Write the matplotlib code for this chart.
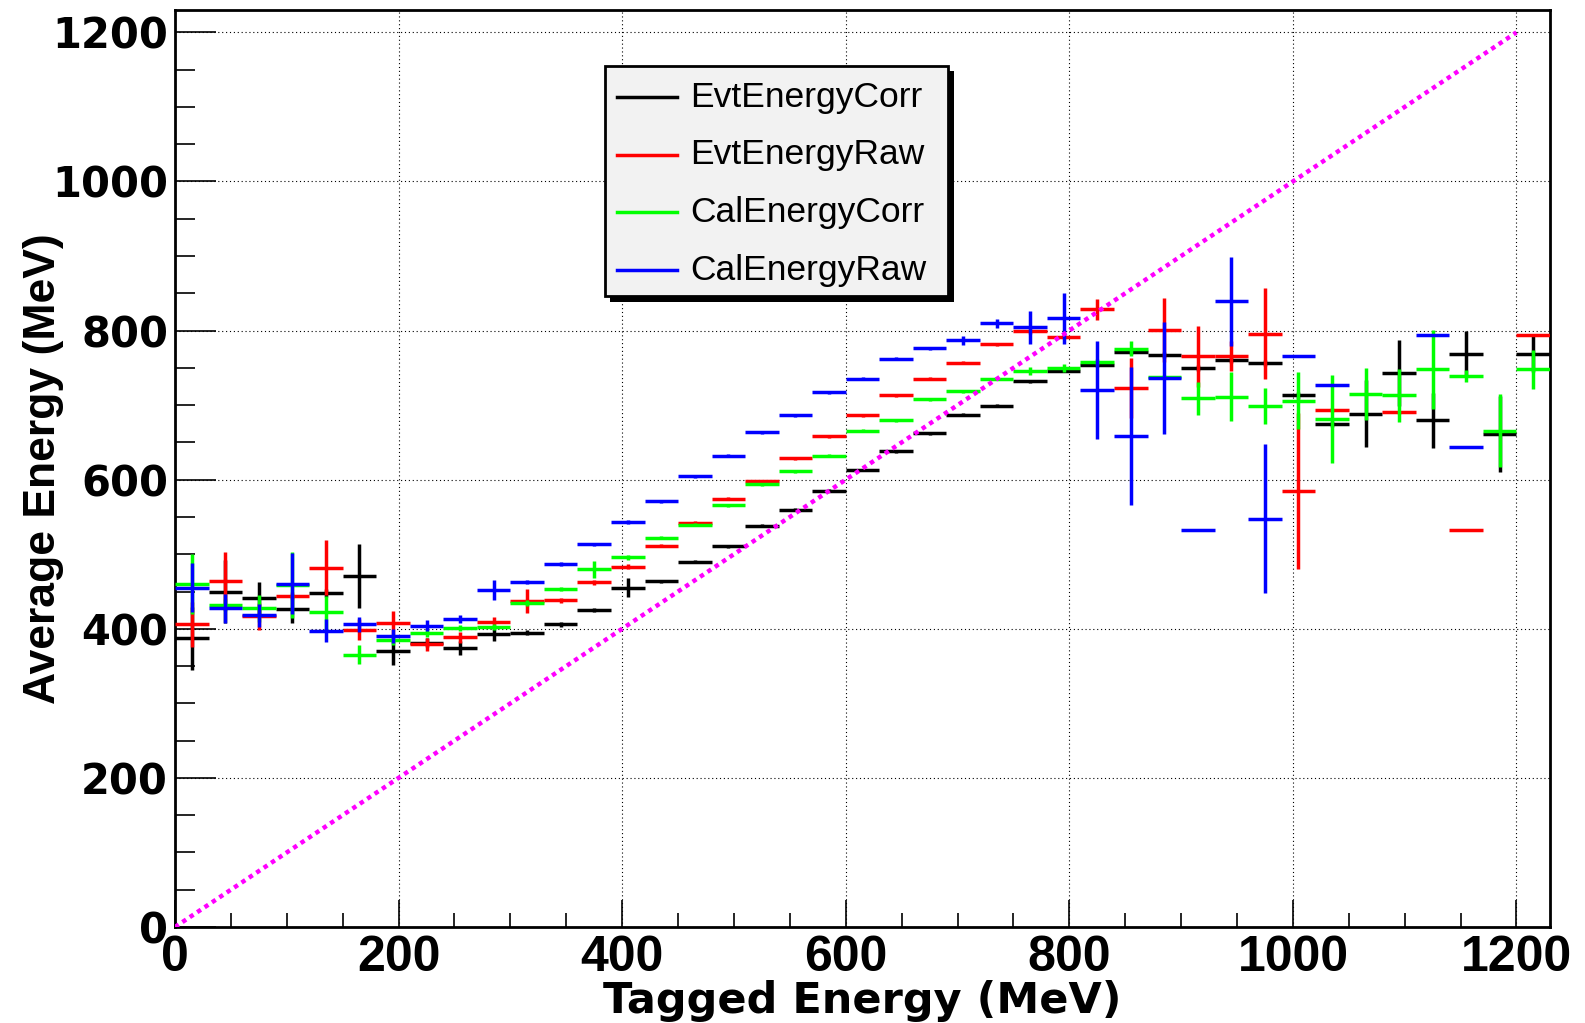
import numpy as np
import matplotlib
matplotlib.use("Agg")
import matplotlib.pyplot as plt
from matplotlib.lines import Line2D
from matplotlib.patches import Rectangle
from matplotlib.ticker import MultipleLocator

nan = np.nan

# 30 MeV tagger bins, 0 - 1230 MeV
bin_width = 30
bin_centers = np.arange(15, 1230, bin_width)

evt_corr = [387, 450, 441, 427, 448, 471, 370, 381, 374, 393,
            395, 406, 425.5, 455, 464, 490, 511, 538, 560, 585,
            613, 638, 662, 687, 699, 732, 746, 754, 771, 767,
            750, 761, 757, 713, 675, 688.5, 743, 679.5, 769, 661, 769]
evt_corr_err = [42, 42, 22, 19, 5, 43, 18, 6, 9, 10,
                4, 3, 3, 12.5, 2, 2, 2, 2, 2, 2,
                2, 2, 2, 2, 2, 2, 2, 3, 3, 4,
                4, 4, 4, 5, 4, 45, 44.5, 37, 30, 51, 25]

evt_raw = [406, 464, 416.5, 444.6, 482, 399, 408, 379, 388.5, 409.7,
           437, 438, 462.4, 483.3, 511.3, 542.5, 574.5, 598, 628.8, 658,
           686.6, 713, 735.6, 757, 781.4, 798.8, 792, 828.5, 723.4, 800.6,
           765.5, 765.5, 795.7, 584.8, 693.8, nan, 690.3, nan, 532.3, nan, 793.5]
evt_raw_err = [30, 39, 18, 5, 37, 14, 16, 9, 7, 6,
               16, 3, 3, 3, 2, 2, 2, 2, 2, 2,
               2, 2, 2, 2, 2, 3, 3, 14.5, 40, 43,
               40.7, 20, 61, 104, 3, 0, 2, 0, 0, 0, 0]

cal_corr = [460, 432, 427.6, 458.5, 422, 365.4, 384.5, 394.3, 401, 402.8,
            434.4, 453.5, 479.7, 495.8, 522, 539.8, 566, 594, 611.5, 632.4,
            665.7, 679.6, 707.6, 718.7, 735.6, 745.9, 749.7, 758.3, 775.5, 738,
            709.4, 711.2, 698.7, 706, 681.3, 714.7, 713, 747.8, 739.2, 665.4, 747.8]
cal_corr_err = [40, 8, 18, 44, 22, 13, 6, 5, 4, 4,
                4, 3, 11, 3, 2, 2, 2, 2, 2, 2,
                2, 2, 2, 2, 2, 5, 5, 4, 10, 3,
                22, 33, 24, 38.5, 59, 35, 35, 53.4, 8, 49, 26]

cal_raw = [455, 427.4, 418, 460.4, 397.6, 406, 390.4, 404.3, 413.5, 451.5,
           462.5, 486.9, 513.1, 543, 571, 604.4, 632.4, 663.8, 686.6, 717,
           735.6, 761.9, 776.1, 786.8, 809.5, 804.2, 816.5, 720.3, 658.6, 736,
           532.3, 839.2, 547.8, 765.5, 727, nan, nan, 793.7, 644.4, nan, nan]
cal_raw_err = [33, 19, 15, 40.7, 15, 10, 9.6, 7.8, 5.5, 13.3,
               3, 3, 2, 2.5, 2, 2, 2, 2, 2, 2,
               2, 2, 2, 6, 5.6, 21.8, 34, 66, 93, 75,
               0, 59.6, 100, 0, 2, 0, 0, 0, 0, 0, 0]

series = [
    ("EvtEnergyCorr", evt_corr, evt_corr_err, "#000000"),
    ("EvtEnergyRaw", evt_raw, evt_raw_err, "#ff0000"),
    ("CalEnergyCorr", cal_corr, cal_corr_err, "#00ff00"),
    ("CalEnergyRaw", cal_raw, cal_raw_err, "#0000ff"),
]

fig = plt.figure(figsize=(15.85, 10.23), dpi=100)
ax = fig.add_axes([175 / 1585, 1 - 927 / 1023, 1375 / 1585, 917 / 1023])

for name, vals, errs, col in series:
    ax.errorbar(bin_centers, vals, xerr=bin_width / 2, yerr=errs, fmt="none",
                ecolor=col, elinewidth=2.5, capsize=0, zorder=3)

# y = x reference
ax.plot([0, 1200], [0, 1200], color="#ff00ff", lw=3.2,
        linestyle=(0, (1, 1)), zorder=4)

ax.set_xlim(0, 1230)
ax.set_ylim(0, 1230)
ax.xaxis.set_major_locator(MultipleLocator(200))
ax.xaxis.set_minor_locator(MultipleLocator(50))
ax.yaxis.set_major_locator(MultipleLocator(200))
ax.yaxis.set_minor_locator(MultipleLocator(50))
ax.grid(True, which="major", color="black", lw=0.8, linestyle=(0, (1, 2.5)))
ax.set_axisbelow(True)

ax.tick_params(axis="x", which="major", direction="in", length=19.8, width=1.2,
               top=False, pad=6)
ax.tick_params(axis="x", which="minor", direction="in", length=9.9, width=1.2,
               top=False)
ax.tick_params(axis="y", which="major", direction="in", length=29.5, width=1.2,
               right=False, pad=5)
ax.tick_params(axis="y", which="minor", direction="in", length=14.7, width=1.2,
               right=False)
for sp in ax.spines.values():
    sp.set_linewidth(2)
    sp.set_color("black")

for lab in ax.get_xticklabels():
    lab.set_fontfamily("Liberation Sans")
    lab.set_fontweight("bold")
    lab.set_fontsize(36)
for lab in ax.get_yticklabels():
    lab.set_fontfamily("DejaVu Sans")
    lab.set_fontweight("bold")
    lab.set_fontsize(30)

ax.set_xlabel("Tagged Energy (MeV)", fontfamily="DejaVu Sans",
              fontweight="bold", fontsize=31)
ax.xaxis.set_label_coords(0.5, -0.058)
ax.set_ylabel("Average Energy (MeV)", fontfamily="Liberation Sans",
              fontweight="bold", fontsize=32)
ax.yaxis.set_label_coords(-0.081, 0.5)

# legend box with ROOT-like drop shadow
lx0, ly0, lw, lh = 0.3124, 0.688, 0.2498, 0.2513
ax.add_patch(Rectangle((lx0 + 0.004, ly0 - 0.006), lw, lh, transform=ax.transAxes,
                       facecolor="black", edgecolor="none", zorder=9))
ax.add_patch(Rectangle((lx0, ly0), lw, lh, transform=ax.transAxes,
                       facecolor="#f2f2f2", edgecolor="black", lw=2, zorder=10))
for i, (name, vals, errs, col) in enumerate(series):
    yy = ly0 + lh * (0.875 - i * 0.25) - 0.003
    ax.add_line(Line2D([lx0 + 0.009, lx0 + 0.053], [yy, yy], transform=ax.transAxes,
                       color=col, lw=2.5, zorder=11))
    ax.text(lx0 + 0.062, yy, name, transform=ax.transAxes, fontsize=25.5,
            fontfamily="Liberation Sans", va="center", ha="left", zorder=11)

fig.savefig("out.png", dpi=100)
